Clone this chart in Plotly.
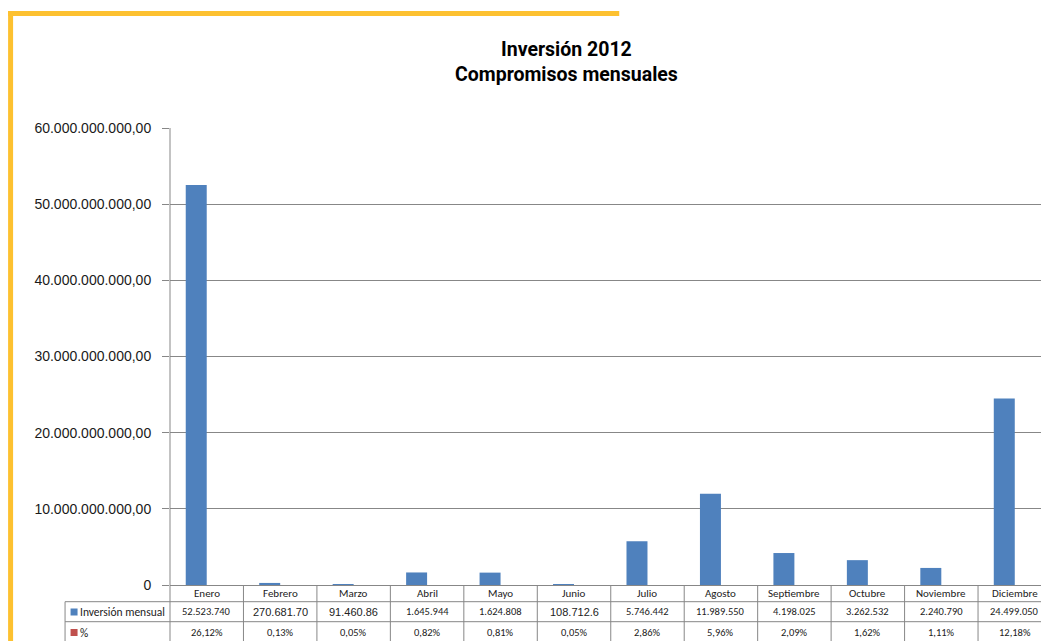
import plotly.graph_objects as go

# ---------------- data ----------------
meses = ["Enero", "Febrero", "Marzo", "Abril", "Mayo", "Junio", "Julio",
         "Agosto", "Septiembre", "Octubre", "Noviembre", "Diciembre"]
inversion_mensual = [52523740000, 270681700, 91460860, 1645944000, 1624808000,
                     108712600, 5746442000, 11989550000, 4198025000,
                     3262532000, 2240790000, 24499050000]
inversion_etiquetas = ["52.523.740", "270.681.70", "91.460.86", "1.645.944",
                       "1.624.808", "108.712.6", "5.746.442", "11.989.550",
                       "4.198.025", "3.262.532", "2.240.790", "24.499.050"]
porcentaje = [26.12, 0.13, 0.05, 0.82, 0.81, 0.05, 2.86, 5.96, 2.09, 1.62, 1.11, 12.18]
y_ticks = [0, 10e9, 20e9, 30e9, 40e9, 50e9, 60e9]
y_ticktext = ["0", "10.000.000.000,00", "20.000.000.000,00", "30.000.000.000,00",
              "40.000.000.000,00", "50.000.000.000,00", "60.000.000.000,00"]
serie_nombres = ["Inversión mensual", "%"]
titulo = "Inversión 2012<br>Compromisos mensuales"

# ---------------- style / geometry (screen pixels) ----------------
SCREEN_W, SCREEN_H = 1049, 641
OFF = 8                      # default page body margin
W, H = SCREEN_W - OFF, SCREEN_H - OFF
AXIS_X = 169.5               # screen x of y axis
TOP_Y = 128                  # screen y of top of plot
ZERO_Y = 585                 # screen y of baseline
L = AXIS_X - OFF
T = TOP_Y - OFF
B = SCREEN_H - ZERO_Y
PLOT_W = W - L
PLOT_H = H - T - B
COL_W = 73.5
BLUE = "#4F81BD"
RED = "#C0504D"
GRID = "#878787"
YELLOW = "#FDC130"
TABLE_FONT = "Carlito, Lato, sans-serif"
ALT_FONT = "Liberation Sans, Arial, sans-serif"
alt_idx = {1, 2, 5}


def px_x(p):
    return (p - AXIS_X) / PLOT_W


def px_y(p):
    return (ZERO_Y - p) / PLOT_H


fig = go.Figure()
fig.add_trace(go.Bar(x=list(range(len(meses))), y=inversion_mensual,
                     name=serie_nombres[0], marker=dict(color=BLUE, line=dict(width=0))))
fig.add_trace(go.Bar(x=list(range(len(meses))), y=[p / 100 for p in porcentaje],
                     name=serie_nombres[1], marker=dict(color=RED, line=dict(width=0))))

shapes = []
annotations = []

# yellow frame
shapes.append(dict(type="line", xref="paper", yref="paper",
                   x0=px_x(7.5), x1=px_x(619), y0=px_y(13.5), y1=px_y(13.5),
                   line=dict(color=YELLOW, width=5)))
shapes.append(dict(type="line", xref="paper", yref="paper",
                   x0=px_x(10), x1=px_x(10), y0=px_y(11), y1=px_y(SCREEN_H + 5),
                   line=dict(color=YELLOW, width=5)))

# y axis line continuing through the table
shapes.append(dict(type="line", xref="paper", yref="paper",
                   x0=0, x1=0, y0=1, y1=px_y(SCREEN_H + 5),
                   line=dict(color=GRID, width=1)))
# table column borders
for i in range(1, len(meses) + 1):
    shapes.append(dict(type="line", xref="x", yref="paper",
                       x0=i - 0.5, x1=i - 0.5, y0=0, y1=px_y(SCREEN_H + 5),
                       line=dict(color=GRID, width=1)))
# table horizontal borders
for yy in (601.7, 621.7):
    shapes.append(dict(type="line", xref="paper", yref="paper",
                       x0=px_x(64.5), x1=px_x(SCREEN_W + 5), y0=px_y(yy), y1=px_y(yy),
                       line=dict(color=GRID, width=1)))
shapes.append(dict(type="line", xref="paper", yref="paper",
                   x0=px_x(64.5), x1=px_x(64.5), y0=px_y(601.7), y1=px_y(SCREEN_H + 5),
                   line=dict(color=GRID, width=1)))

# legend keys
for yy, col in ((612, BLUE), (632.5, RED)):
    shapes.append(dict(type="rect", xref="paper", yref="paper",
                       x0=px_x(70), x1=px_x(77), y0=px_y(yy - 3.5), y1=px_y(yy + 3.5),
                       fillcolor=col, line=dict(width=0)))
for yy, name in ((612, serie_nombres[0]), (632.5, serie_nombres[1])):
    annotations.append(dict(text=name, xref="paper", yref="paper",
                            x=px_x(77.5), y=px_y(yy), xanchor="left", yanchor="middle",
                            showarrow=False, font=dict(family=TABLE_FONT, size=11.5, color="#222")))

# table cells
for i, m in enumerate(meses):
    annotations.append(dict(text=m, xref="x", yref="paper", x=i, y=px_y(593.5),
                            xanchor="center", yanchor="middle", showarrow=False,
                            font=dict(family=TABLE_FONT, size=11, color="#222")))
    annotations.append(dict(text=inversion_etiquetas[i], xref="x", yref="paper", x=i,
                            y=px_y(611.5), xanchor="center", yanchor="middle", showarrow=False,
                            font=dict(family=ALT_FONT if i in alt_idx else TABLE_FONT,
                                      size=11 if i in alt_idx else 10.5, color="#222")))
    annotations.append(dict(text=f"{porcentaje[i]:.2f}".replace(".", ",") + "%",
                            xref="x", yref="paper", x=i, y=px_y(632.5),
                            xanchor="center", yanchor="middle", showarrow=False,
                            font=dict(family=TABLE_FONT, size=10.5, color="#222")))

# title
annotations.append(dict(text=titulo, xref="paper", yref="paper",
                        x=px_x(566), y=px_y(62), xanchor="center", yanchor="middle",
                        showarrow=False, align="center",
                        font=dict(family="Roboto, sans-serif", size=19.5,
                                  color="black", weight="bold")))

fig.update_layout(
    width=W, height=H,
    margin=dict(l=L, r=0, t=T, b=B, pad=0),
    paper_bgcolor="white", plot_bgcolor="white",
    barmode="group", bargap=(COL_W - 42) / COL_W, bargroupgap=0,
    showlegend=False,
    xaxis=dict(range=[-0.5, -0.5 + PLOT_W / COL_W], showticklabels=False,
               showgrid=False, zeroline=False, showline=True, linecolor=GRID,
               linewidth=1, ticks=""),
    yaxis=dict(range=[0, 60e9], tickvals=y_ticks, ticktext=y_ticktext,
               showgrid=True, gridcolor=GRID, gridwidth=1, zeroline=False,
               showline=False, ticks="outside", ticklen=7, tickcolor=GRID,
               ticklabelstandoff=8,
               tickfont=dict(family="Liberation Sans, Arial, sans-serif", size=14, color="#1a1a1a")),
    shapes=shapes, annotations=annotations,
)

fig.write_html("out.html")
